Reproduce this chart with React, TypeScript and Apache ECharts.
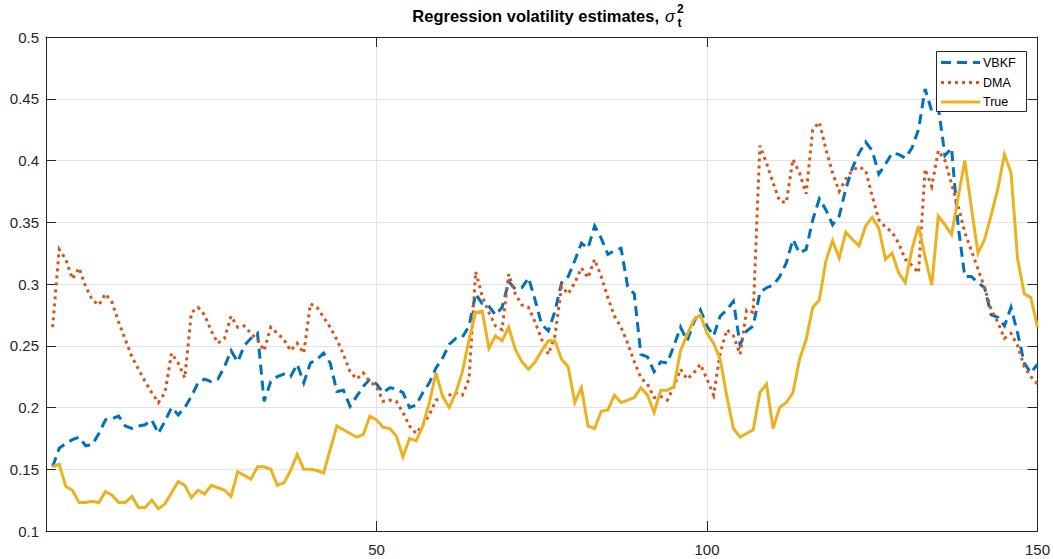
import React, { useEffect, useRef } from "react";
import * as echarts from "echarts";

// time index 1..150
const steps: number[] = Array.from({ length: 150 }, (_, i) => i + 1);

const vbkf: number[] = [
  0.152, 0.167, 0.171, 0.174, 0.176, 0.169, 0.170, 0.179, 0.190, 0.191,
  0.193, 0.185, 0.183, 0.185, 0.186, 0.190, 0.179, 0.189, 0.200, 0.194,
  0.200, 0.209, 0.220, 0.223, 0.221, 0.223, 0.233, 0.246, 0.237, 0.250,
  0.256, 0.260, 0.205, 0.221, 0.225, 0.227, 0.225, 0.235, 0.220, 0.236,
  0.239, 0.244, 0.236, 0.213, 0.214, 0.201, 0.209, 0.217, 0.223, 0.219,
  0.212, 0.216, 0.215, 0.212, 0.200, 0.202, 0.212, 0.220, 0.232, 0.240,
  0.251, 0.256, 0.257, 0.266, 0.292, 0.284, 0.282, 0.275, 0.281, 0.302,
  0.296, 0.297, 0.305, 0.287, 0.267, 0.262, 0.278, 0.301, 0.306, 0.319,
  0.333, 0.329, 0.347, 0.337, 0.324, 0.327, 0.329, 0.298, 0.292, 0.243,
  0.241, 0.229, 0.237, 0.236, 0.250, 0.265, 0.254, 0.269, 0.279, 0.266,
  0.258, 0.274, 0.279, 0.286, 0.251, 0.262, 0.266, 0.293, 0.297, 0.299,
  0.306, 0.317, 0.336, 0.325, 0.328, 0.352, 0.369, 0.360, 0.348, 0.355,
  0.377, 0.394, 0.406, 0.415, 0.408, 0.389, 0.397, 0.406, 0.405, 0.402,
  0.410, 0.425, 0.458, 0.440, 0.443, 0.404, 0.410, 0.347, 0.306, 0.306,
  0.301, 0.297, 0.275, 0.273, 0.266, 0.281, 0.260, 0.236, 0.228, 0.235,
];

const dma: number[] = [
  0.265, 0.328, 0.320, 0.304, 0.313, 0.298, 0.287, 0.283, 0.292, 0.285,
  0.269, 0.255, 0.241, 0.231, 0.221, 0.212, 0.204, 0.212, 0.244, 0.236,
  0.224, 0.277, 0.281, 0.275, 0.262, 0.252, 0.256, 0.274, 0.265, 0.266,
  0.260, 0.255, 0.246, 0.265, 0.260, 0.255, 0.246, 0.252, 0.244, 0.284,
  0.281, 0.273, 0.265, 0.255, 0.243, 0.229, 0.223, 0.228, 0.221, 0.217,
  0.205, 0.206, 0.205, 0.196, 0.185, 0.179, 0.186, 0.194, 0.206, 0.208,
  0.210, 0.212, 0.210, 0.223, 0.310, 0.290, 0.277, 0.266, 0.263, 0.308,
  0.292, 0.283, 0.281, 0.269, 0.255, 0.243, 0.258, 0.298, 0.292, 0.301,
  0.313, 0.305, 0.320, 0.306, 0.289, 0.274, 0.265, 0.252, 0.237, 0.224,
  0.219, 0.208, 0.209, 0.206, 0.217, 0.231, 0.223, 0.228, 0.235, 0.223,
  0.210, 0.244, 0.263, 0.258, 0.243, 0.279, 0.277, 0.412, 0.398, 0.382,
  0.367, 0.366, 0.401, 0.390, 0.373, 0.425, 0.431, 0.409, 0.390, 0.375,
  0.385, 0.392, 0.395, 0.392, 0.371, 0.352, 0.346, 0.342, 0.333, 0.320,
  0.315, 0.309, 0.393, 0.379, 0.408, 0.400, 0.381, 0.363, 0.342, 0.327,
  0.312, 0.297, 0.279, 0.269, 0.256, 0.260, 0.250, 0.233, 0.225, 0.219,
];

const trueVol: number[] = [
  0.152, 0.154, 0.136, 0.133, 0.123, 0.123, 0.124, 0.123, 0.132, 0.129,
  0.123, 0.123, 0.128, 0.119, 0.119, 0.125, 0.118, 0.122, 0.131, 0.140,
  0.137, 0.127, 0.133, 0.130, 0.137, 0.135, 0.133, 0.128, 0.148, 0.145,
  0.142, 0.152, 0.152, 0.150, 0.137, 0.139, 0.149, 0.162, 0.150, 0.150,
  0.149, 0.147, 0.166, 0.185, 0.182, 0.179, 0.176, 0.178, 0.193, 0.190,
  0.184, 0.183, 0.177, 0.160, 0.175, 0.173, 0.185, 0.204, 0.228, 0.209,
  0.200, 0.212, 0.229, 0.255, 0.277, 0.278, 0.248, 0.258, 0.254, 0.265,
  0.247, 0.237, 0.231, 0.237, 0.246, 0.254, 0.254, 0.239, 0.233, 0.204,
  0.216, 0.185, 0.183, 0.197, 0.198, 0.210, 0.204, 0.206, 0.208, 0.216,
  0.210, 0.196, 0.214, 0.214, 0.217, 0.246, 0.259, 0.271, 0.275, 0.260,
  0.252, 0.239, 0.209, 0.183, 0.176, 0.179, 0.182, 0.212, 0.219, 0.183,
  0.200, 0.204, 0.212, 0.239, 0.255, 0.281, 0.287, 0.319, 0.335, 0.321,
  0.342, 0.336, 0.331, 0.347, 0.354, 0.345, 0.320, 0.325, 0.309, 0.301,
  0.328, 0.347, 0.322, 0.299, 0.355, 0.348, 0.340, 0.370, 0.400, 0.362,
  0.325, 0.336, 0.356, 0.377, 0.405, 0.390, 0.320, 0.292, 0.289, 0.265,
];

const seriesNames: string[] = ["VBKF", "DMA", "True"];
const seriesColors: string[] = ["#0072BD", "#D95319", "#EDB120"];
const titleText = "Regression volatility estimates,";

const FONT = "'Liberation Sans', Arial, Helvetica, sans-serif";
const AX = "#262626";
const GRIDC = "#e3e3e3";

export default function App() {
  const ref = useRef<HTMLDivElement>(null);

  useEffect(() => {
    document.body.style.margin = "0";
    if (!ref.current) return;
    const chart = echarts.init(ref.current, undefined, { renderer: "svg" });

    const axisLine = { show: true, onZero: false, lineStyle: { color: AX, width: 1 } };
    const axisTick = { show: true, inside: true, length: 10, lineStyle: { color: AX, width: 1 } };
    const fmtY = (v: number) => String(+v.toFixed(2));

    const dashTypes: any[] = [[10, 6], [3, 4], "solid"];
    const datasets = [vbkf, dma, trueVol];

    const legendY = [62.5, 82.5, 102];

    const option: any = {
      animation: false,
      backgroundColor: "#ffffff",
      grid: { left: 46, right: 14, top: 37, bottom: 28, show: false },
      xAxis: [
        {
          type: "value",
          min: 0,
          max: 150,
          interval: 50,
          position: "bottom",
          axisLine,
          axisTick,
          axisLabel: {
            formatter: (v: number) => (v === 0 ? "" : String(v)),
            color: AX,
            fontSize: 15,
            fontFamily: FONT,
            margin: 11,
          },
          splitLine: { show: true, lineStyle: { color: GRIDC, width: 1 } },
        },
        {
          type: "value",
          min: 0,
          max: 150,
          interval: 50,
          position: "top",
          axisLine,
          axisTick,
          axisLabel: { show: false },
          splitLine: { show: false },
        },
      ],
      yAxis: [
        {
          type: "value",
          min: 0.1,
          max: 0.5,
          interval: 0.05,
          position: "left",
          axisLine,
          axisTick,
          axisLabel: {
            formatter: fmtY,
            color: AX,
            fontSize: 15,
            fontFamily: FONT,
            margin: 7,
          },
          splitLine: { show: true, lineStyle: { color: GRIDC, width: 1 } },
        },
        {
          type: "value",
          min: 0.1,
          max: 0.5,
          interval: 0.05,
          position: "right",
          axisLine,
          axisTick,
          axisLabel: { show: false },
          splitLine: { show: false },
        },
      ],
      series: seriesNames.map((name, k) => ({
        name,
        type: "line",
        xAxisIndex: 0,
        yAxisIndex: 0,
        showSymbol: false,
        symbol: "none",
        data: steps.map((t, i) => [t, datasets[k][i]]),
        lineStyle: {
          color: seriesColors[k],
          width: 3,
          type: dashTypes[k],
          cap: "butt",
          join: "miter",
        },
        z: 2 + k,
      })),
      graphic: [
        {
          type: "text",
          z: 100,
          x: 659,
          y: 16,
          style: {
            text: titleText,
            font: `bold 16.5px ${FONT}`,
            fill: "#000",
            align: "right",
            verticalAlign: "middle",
          },
        },
        {
          type: "text",
          z: 100,
          x: 665,
          y: 16,
          style: {
            text: "σ",
            font: `italic 16.5px ${FONT}`,
            fill: "#000",
            align: "left",
            verticalAlign: "middle",
          },
        },
        {
          type: "text",
          z: 100,
          x: 677,
          y: 8.8,
          style: {
            text: "2",
            font: `bold 12px ${FONT}`,
            fill: "#000",
            align: "left",
            verticalAlign: "middle",
          },
        },
        {
          type: "text",
          z: 100,
          x: 677.5,
          y: 22.8,
          style: {
            text: "t",
            font: `bold 12px ${FONT}`,
            fill: "#000",
            align: "left",
            verticalAlign: "middle",
          },
        },
        {
          type: "rect",
          z: 100,
          shape: { x: 936.5, y: 51.5, width: 90, height: 60 },
          style: { fill: "#ffffff", stroke: AX, lineWidth: 1 },
        },
        ...seriesNames.map((name, k) => ({
          type: "line",
          z: 101,
          shape: { x1: 941, y1: legendY[k], x2: 980, y2: legendY[k] },
          style: {
            stroke: seriesColors[k],
            lineWidth: 3,
            lineDash: k === 2 ? null : dashTypes[k],
            lineCap: "butt",
          },
        })),
        ...seriesNames.map((name, k) => ({
          type: "text",
          z: 101,
          x: 983,
          y: legendY[k],
          style: {
            text: name,
            font: `12.5px ${FONT}`,
            fill: "#000",
            align: "left",
            verticalAlign: "middle",
          },
        })),
      ],
    };

    chart.setOption(option);
    return () => {
      chart.dispose();
    };
  }, []);

  return <div ref={ref} style={{ width: 1053, height: 559 }} />;
}
